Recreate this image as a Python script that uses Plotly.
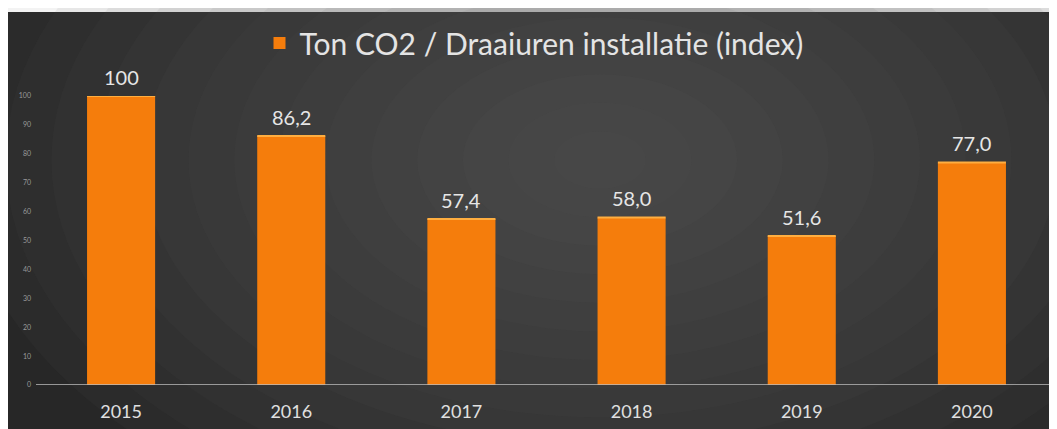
import plotly.graph_objects as go

years = ["2015", "2016", "2017", "2018", "2019", "2020"]
values = [100, 86.2, 57.4, 58.0, 51.6, 77.0]
series_name = "Ton CO2 / Draaiuren installatie (index)"
ytick_vals = [0, 10, 20, 30, 40, 50, 60, 70, 80, 90, 100]

labels = [("%d" % v) if v == 100 else ("%.1f" % v).replace(".", ",") for v in values]

# page body has an 8px margin; figure coordinates = screen - 8
OFF = 8
W, H = 1057 - OFF, 429 - OFF
ml, mr, mt, mb = 36 - OFF, 0, 96 - OFF, 44
pw, ph = W - ml - mr, H - mt - mb

def px_x(x):
    return (x - OFF - ml) / pw

def px_y(y):
    return (H - mb - (y - OFF)) / ph

fig = go.Figure()
fig.add_trace(go.Bar(
    x=years, y=values, name=series_name,
    marker=dict(color="#F57D0C", line=dict(width=0)),
    showlegend=True,
))

for i, (v, lab) in enumerate(zip(values, labels)):
    fig.add_annotation(x=i, y=v, text=lab, showarrow=False, yshift=19,
                       font=dict(family="Lato", size=20, color="#E6E6E6"))

shapes = []
shapes.append(dict(type="rect", xref="paper", yref="paper", layer="below",
                   x0=px_x(0), x1=px_x(1070), y0=px_y(440), y1=px_y(12),
                   fillcolor="#272727", line=dict(width=0)))
cx, cy = 600, 160
n = 14
for k in range(n):
    f = 1 - k / n
    rx, ry = 640 * f, 400 * f
    shapes.append(dict(type="circle", xref="paper", yref="paper", layer="below",
                       x0=px_x(cx - rx), x1=px_x(cx + rx), y0=px_y(cy + ry), y1=px_y(cy - ry),
                       fillcolor="#5e5e5e", opacity=0.075, line=dict(width=0)))
shapes.append(dict(type="line", xref="paper", yref="y", x0=0, x1=1, y0=0, y1=0,
                   line=dict(color="#BEBEBE", width=1.5), layer="above"))
for i, v in enumerate(values):
    shapes.append(dict(type="line", xref="x", yref="y", x0=i - 0.2, x1=i + 0.2,
                       y0=v, y1=v, line=dict(color="#FFAE40", width=2), layer="above"))

fig.update_layout(
    width=W, height=H,
    margin=dict(l=ml, r=mr, t=mt, b=mb, autoexpand=False),
    paper_bgcolor="white",
    plot_bgcolor="rgba(0,0,0,0)",
    bargap=0.6,
    shapes=shapes,
    legend=dict(orientation="h", x=px_x(534), xanchor="center", y=px_y(43), yanchor="middle",
                font=dict(family="Lato", size=30, color="#E4E4E4"),
                bgcolor="rgba(0,0,0,0)"),
    xaxis=dict(type="category", range=[-0.5, len(years) - 0.5], showgrid=False, zeroline=False,
               showline=False, ticks="",
               tickfont=dict(family="Lato", size=18, color="#E0E0E0"), ticklabelstandoff=14),
    yaxis=dict(range=[0, 100], tickvals=ytick_vals, showgrid=False, zeroline=False,
               tickfont=dict(family="Lato", size=7, color="#9A9A9A"), ticks="", ticklabelstandoff=4),
    font=dict(family="Lato"),
)

fig.write_html("out.html")
